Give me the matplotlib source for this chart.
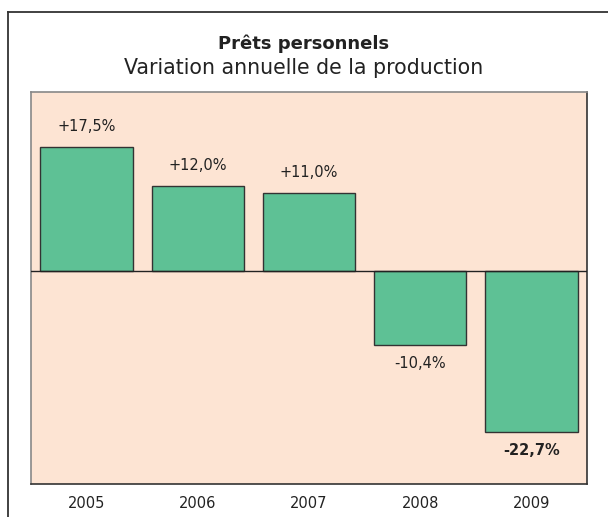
import matplotlib
matplotlib.use("Agg")
import matplotlib.pyplot as plt
from matplotlib.lines import Line2D

years = ["2005", "2006", "2007", "2008", "2009"]
values = [17.5, 12.0, 11.0, -10.4, -22.7]
labels = ["+17,5%", "+12,0%", "+11,0%", "-10,4%", "-22,7%"]
bold = [False, False, False, False, True]

plt.rcParams['font.family'] = ['DejaVu Sans']

fig = plt.figure(figsize=(6.08, 5.17), dpi=100)
ax = fig.add_axes([31/608, 33/517, 556/608, 392/517])
ax.set_facecolor('#FDE4D3')

x = range(len(years))
ax.bar(x, values, width=0.83, color='#5EC195', edgecolor='#333333', linewidth=1.0, zorder=2)
ax.axhline(0, color='#222222', linewidth=1.0, zorder=3)

for i, (v, lab, b) in enumerate(zip(values, labels, bold)):
    off = 2.8 if v > 0 else -2.6
    ax.text(i, v + off, lab, ha='center', va='center', fontsize=10.5,
            fontweight='bold' if b else 'normal', color='#222222')

ax.set_xlim(-0.5, 4.5)
ax.set_ylim(-30.0, 25.2)
ax.set_xticks(list(x))
ax.set_xticklabels(years, fontsize=10.5, color='#222222')
ax.set_yticks([])
ax.tick_params(axis='x', length=0, pad=8.5)
for s in ['left', 'top']:
    ax.spines[s].set_color('#888888')
for s in ['right', 'bottom']:
    ax.spines[s].set_color('#333333')
for s in ax.spines.values():
    s.set_linewidth(1.2)

fig.text(0.5, 1 - 44/517, "Prêts personnels", ha='center', va='center',
         fontsize=13, fontweight='bold', color='#222222')
fig.text(0.5, 1 - 68/517, "Variation annuelle de la production", ha='center', va='center',
         fontsize=14.8, color='#222222')

# outer frame (left and top edges)
fl = 7.5/608
ft = 1 - 12/517
fig.add_artist(Line2D([fl, fl], [0, ft], transform=fig.transFigure, color='#333333', linewidth=1.3))
fig.add_artist(Line2D([fl, 1], [ft, ft], transform=fig.transFigure, color='#333333', linewidth=1.3))

fig.savefig('out.png', dpi=100)
